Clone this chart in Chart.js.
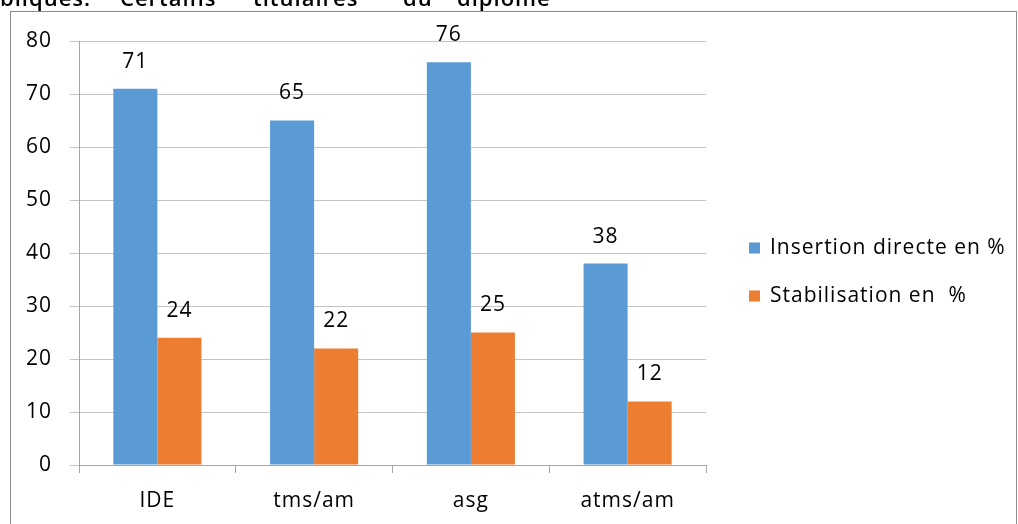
<!DOCTYPE html>
<html>
<head>
<meta charset="utf-8">
<script src="https://cdn.jsdelivr.net/npm/chart.js@4/dist/chart.umd.min.js"></script>
<style>
  html, body { margin: 0; padding: 0; background: #fff; }
  #wrap { width: 1018px; height: 524px; position: relative; }
</style>
</head>
<body>
<div id="wrap"><canvas id="c"></canvas></div>
<script>
const categories = ['IDE', 'tms/am', 'asg', 'atms/am'];
const insertion = [71, 65, 76, 38];
const stabilisation = [24, 22, 25, 12];
const seriesNames = ['Insertion directe en %', 'Stabilisation en  %'];
const yTicks = [0, 10, 20, 30, 40, 50, 60, 70, 80];
const headingWords = [['bliques.', 0], ['Certains', 120], ['titulaires', 253], ['du', 403], ['diplome', 457]];

const FONT = '"Open Sans", Lato, sans-serif';

// frame around the chart and the heading line above it
const framePlugin = {
  id: 'frame',
  beforeDraw(chart) {
    const ctx = chart.ctx;
    // slightly looser text for every label drawn afterwards
    ctx.letterSpacing = '1px';
    ctx.save();
    ctx.fillStyle = '#fff';
    ctx.fillRect(0, 0, chart.width, chart.height);
    ctx.strokeStyle = '#8c8c8c';
    ctx.lineWidth = 1;
    ctx.strokeRect(10.5, 11.5, 1006, 540);
    ctx.fillStyle = '#000';
    ctx.font = '600 22px ' + FONT;
    ctx.textBaseline = 'alphabetic';
    ctx.textAlign = 'left';
    headingWords.forEach(([w, x]) => ctx.fillText(w, x, 6));
    ctx.restore();
  }
};

// value labels above every bar
const valueLabels = {
  id: 'valueLabels',
  afterDatasetsDraw(chart) {
    const ctx = chart.ctx;
    ctx.save();
    ctx.fillStyle = '#000';
    ctx.font = '21px ' + FONT;
    ctx.textAlign = 'center';
    ctx.textBaseline = 'middle';
    chart.data.datasets.forEach((ds, i) => {
      chart.getDatasetMeta(i).data.forEach((el, j) => {
        ctx.fillText(String(ds.data[j]), el.x, el.y - 27);
      });
    });
    ctx.restore();
  }
};

// legend to the right of the plot
const sideLegend = {
  id: 'sideLegend',
  afterDraw(chart) {
    const ctx = chart.ctx;
    const rows = [248, 296];
    ctx.save();
    ctx.font = '21px ' + FONT;
    ctx.textAlign = 'left';
    ctx.textBaseline = 'middle';
    chart.data.datasets.forEach((ds, i) => {
      const y = rows[i];
      ctx.fillStyle = ds.backgroundColor;
      ctx.fillRect(749, y - 5.5, 11, 11);
      ctx.fillStyle = '#000';
      ctx.fillText(ds.label, 770, y);
    });
    ctx.restore();
  }
};

new Chart(document.getElementById('c'), {
  type: 'bar',
  data: {
    labels: categories,
    datasets: [
      { label: seriesNames[0], data: insertion, backgroundColor: '#5B9BD5', borderWidth: 0 },
      { label: seriesNames[1], data: stabilisation, backgroundColor: '#ED7D31', borderWidth: 0 }
    ]
  },
  options: {
    responsive: true,
    maintainAspectRatio: false,
    animation: false,
    devicePixelRatio: 1,
    layout: { padding: { left: 0, top: 41, right: 312, bottom: 0 } },
    datasets: { bar: { barPercentage: 1, categoryPercentage: 0.562 } },
    plugins: {
      legend: { display: false },
      tooltip: { enabled: false }
    },
    scales: {
      x: {
        grid: { drawOnChartArea: false, drawTicks: true, tickLength: 8, color: '#a6a6a6', offset: true },
        border: { color: '#a6a6a6' },
        ticks: { color: '#000', font: { family: FONT, size: 21 }, padding: 15 },
        afterFit(scale) { scale.height = 59; }
      },
      y: {
        min: 0, max: 80,
        afterBuildTicks(scale) { scale.ticks = yTicks.map(v => ({ value: v })); },
        grid: { color: '#c4c4c4', tickLength: 9 },
        border: { color: '#a6a6a6' },
        ticks: { color: '#000', font: { family: FONT, size: 21 }, padding: 18 },
        afterFit(scale) { scale.width = 79; }
      }
    }
  },
  plugins: [framePlugin, valueLabels, sideLegend]
});
</script>
</body>
</html>
